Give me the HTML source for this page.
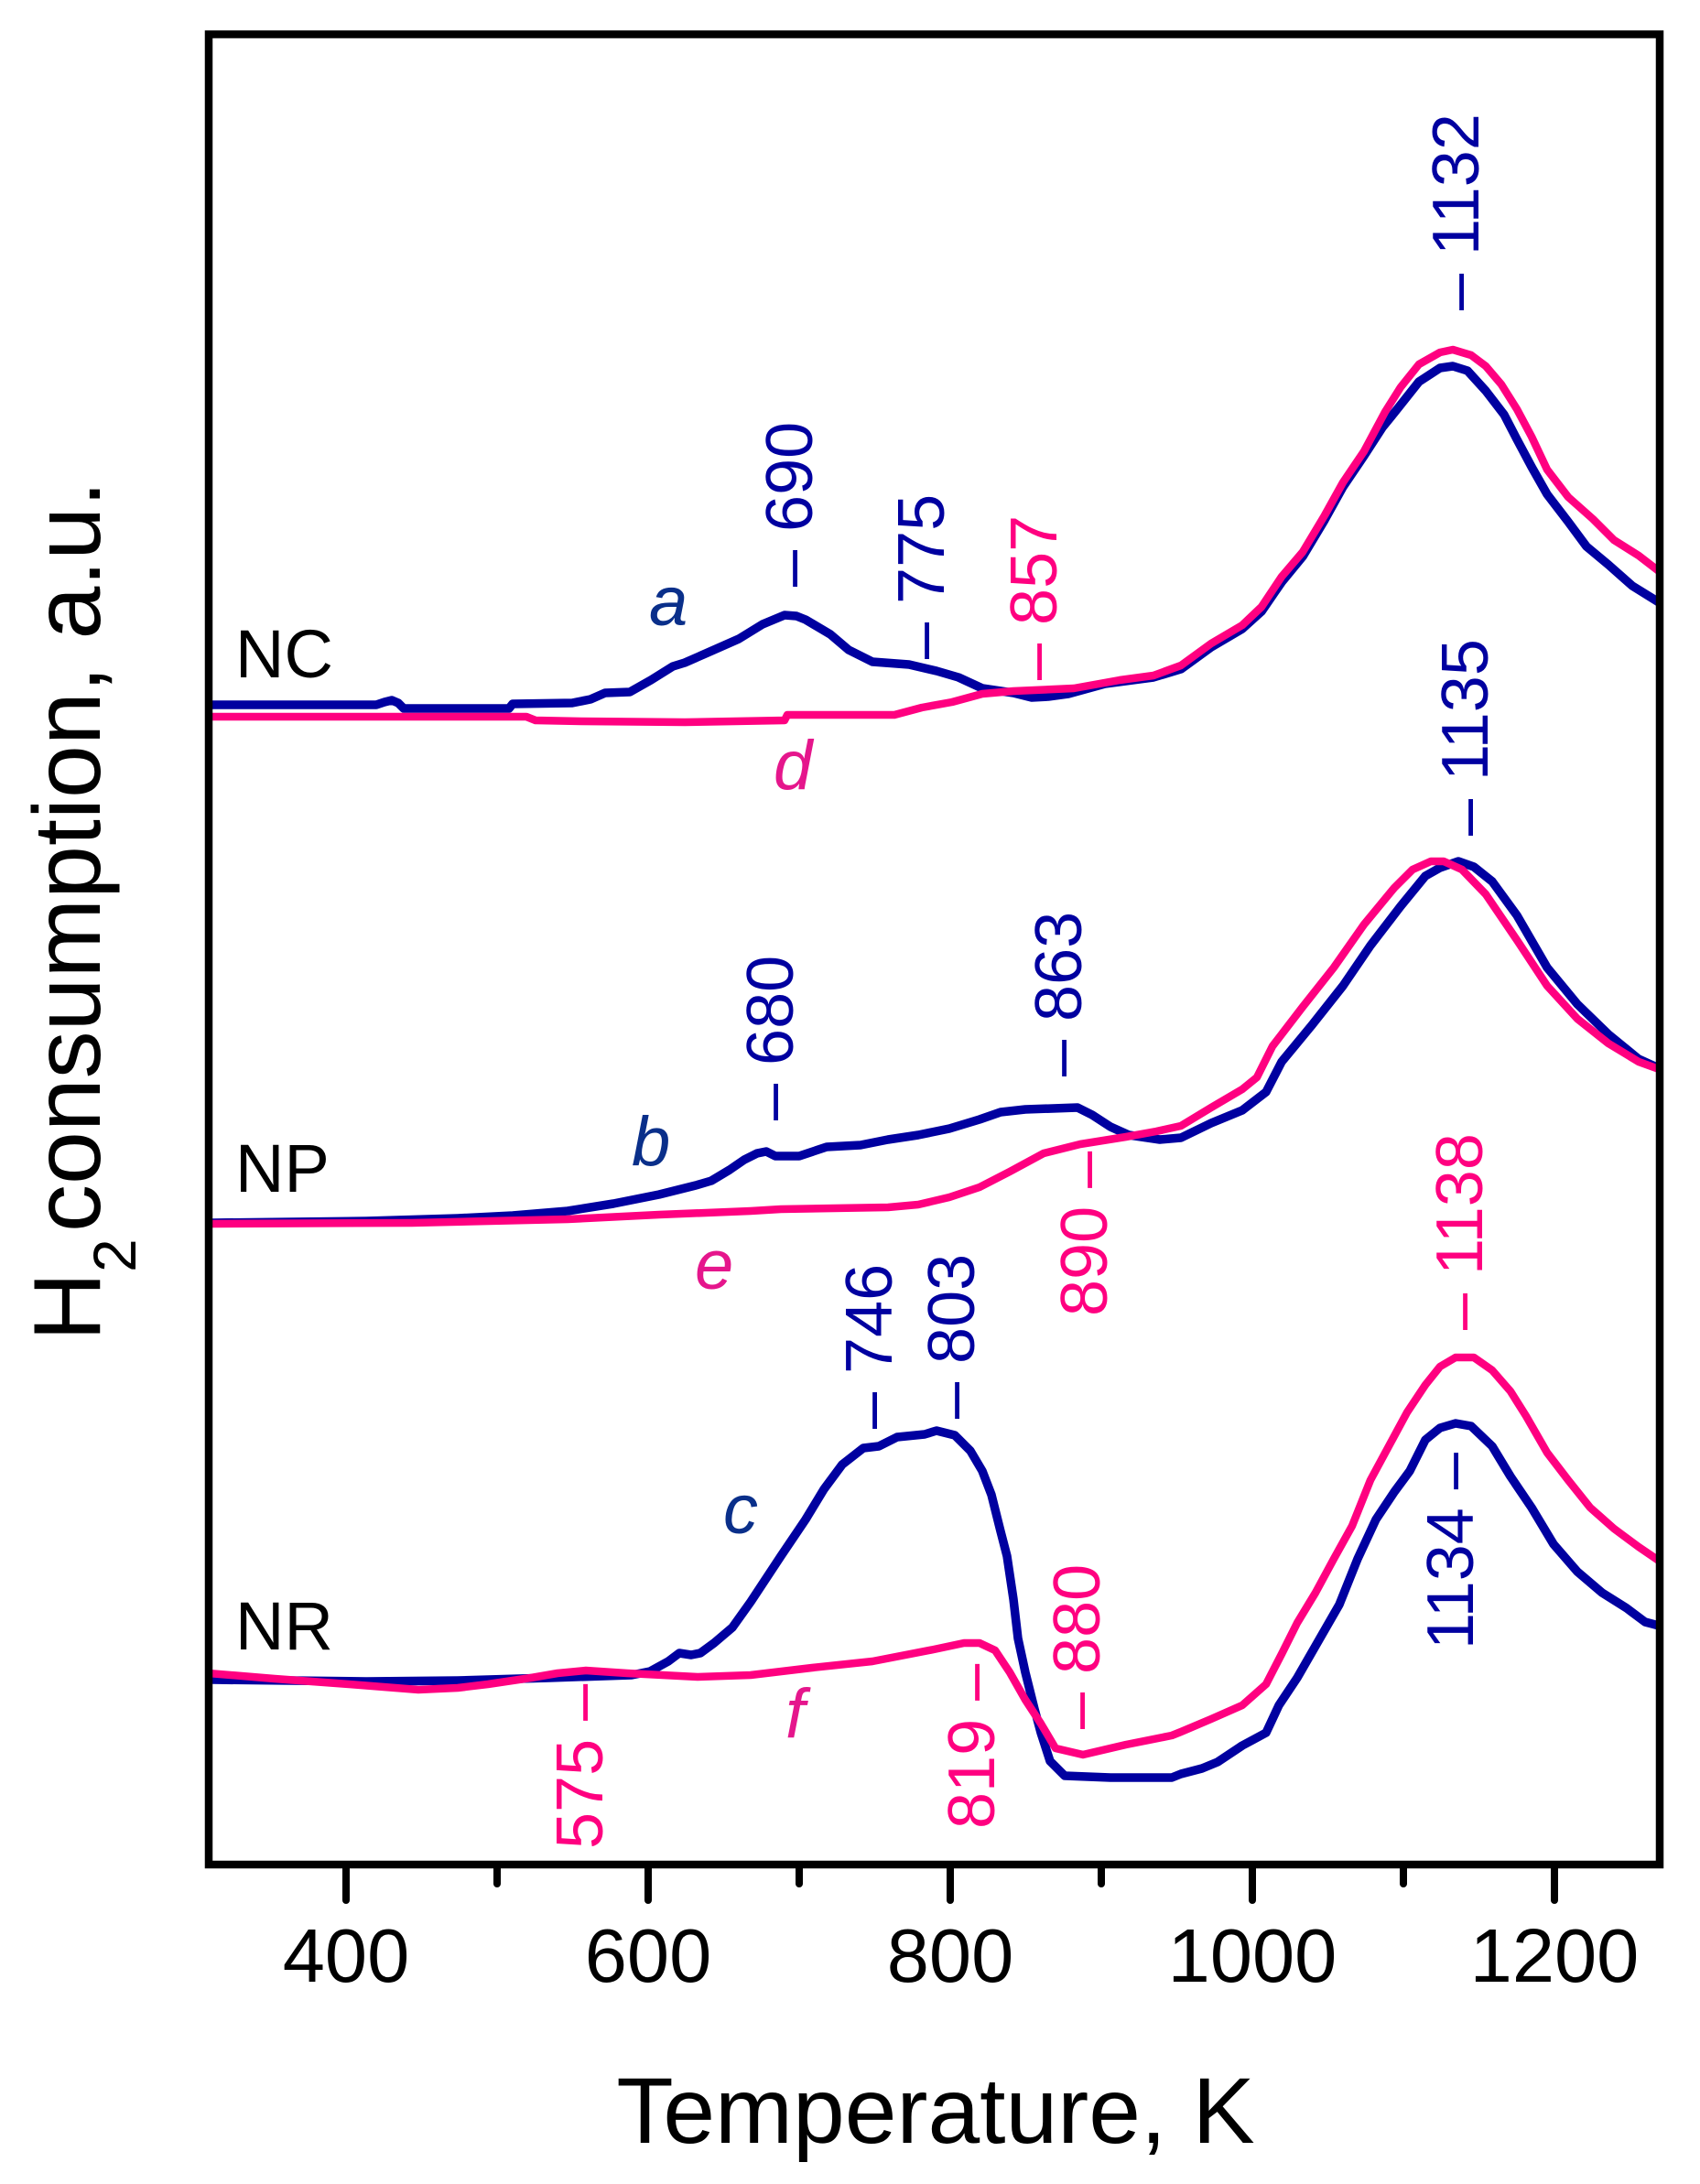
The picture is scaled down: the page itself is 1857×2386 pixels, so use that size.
<!DOCTYPE html>
<html>
<head>
<meta charset="utf-8">
<style>
html,body{margin:0;padding:0;background:#fff;}
svg{display:block;}
text{font-family:"Liberation Sans",Arial,sans-serif;}
</style>
</head>
<body>
<svg width="1857" height="2386" viewBox="0 0 1857 2386" xmlns="http://www.w3.org/2000/svg">
<rect x="0" y="0" width="1857" height="2386" fill="#fff"/>
<defs>
<clipPath id="plot"><rect x="232" y="42" width="1577" height="1991"/></clipPath>
</defs>

<g clip-path="url(#plot)" fill="none" stroke-linejoin="round" stroke-linecap="round">
<!-- a: blue NC -->
<polyline stroke="#0000A0" stroke-width="9.5" points="228,770 411,770 420,767 428,765 435,768 441,774 556,774 560,769 625,768 645,764 661,757 688,756 711,743 735,728 748,724 773,713 807,698 833,682 857,672 870,673 880,677 907,693 927,710 953,723 993,726 1023,733 1047,740 1073,752 1107,757 1127,762 1145,761 1167,758 1207,747 1260,740 1290,731 1323,707 1357,687 1378,668 1400,636 1423,608 1447,568 1467,532 1490,498 1510,467 1523,451 1550,417 1573,402 1587,400 1603,405 1623,427 1643,453 1657,480 1673,510 1690,540 1713,570 1733,597 1757,617 1783,640 1812,658"/>
<!-- d: pink NC -->
<polyline stroke="#FF0080" stroke-width="8.5" points="228,783 575,783 585,787 635,788 748,789 857,787 860,781 977,781 1007,773 1040,767 1073,758 1107,755 1173,752 1223,743 1260,738 1290,727 1323,703 1357,683 1378,663 1400,630 1423,603 1447,563 1467,527 1490,493 1513,450 1530,423 1550,398 1573,385 1587,382 1607,388 1623,400 1640,420 1657,447 1673,477 1690,513 1713,543 1740,567 1763,590 1790,607 1812,624"/>
<!-- b: blue NP -->
<polyline stroke="#0000A0" stroke-width="9.5" points="228,1336 400,1334 500,1331 560,1328 620,1323 670,1315 720,1305 760,1295 777,1290 797,1278 813,1267 827,1260 837,1258 847,1263 873,1263 903,1253 940,1251 970,1245 1003,1240 1037,1233 1070,1223 1093,1215 1120,1212 1177,1210 1193,1218 1213,1231 1233,1240 1267,1245 1290,1243 1323,1227 1357,1213 1383,1193 1400,1160 1433,1120 1467,1077 1497,1033 1530,990 1557,957 1573,948 1593,941 1610,947 1630,963 1657,1000 1690,1057 1723,1097 1757,1130 1790,1157 1812,1167"/>
<!-- e: pink NP -->
<polyline stroke="#FF0080" stroke-width="8.5" points="228,1337 450,1336 620,1332 720,1327 820,1323 853,1321 970,1319 1003,1316 1037,1308 1070,1297 1103,1280 1140,1260 1180,1250 1230,1242 1263,1236 1290,1230 1323,1210 1357,1190 1373,1177 1390,1143 1423,1100 1457,1057 1490,1010 1523,970 1543,950 1563,941 1577,941 1597,950 1623,977 1657,1027 1690,1077 1723,1113 1757,1140 1790,1160 1812,1168"/>
<!-- c: blue NR -->
<polyline stroke="#0000A0" stroke-width="9.5" points="228,1835 400,1837 500,1836 600,1833 690,1830 710,1826 730,1815 742,1806 755,1808 765,1806 780,1795 800,1778 820,1750 853,1700 880,1660 900,1627 920,1600 943,1582 960,1580 980,1570 1010,1567 1023,1563 1043,1568 1060,1585 1073,1607 1083,1633 1093,1673 1100,1700 1107,1747 1112,1790 1120,1827 1130,1867 1137,1893 1147,1924 1163,1940 1213,1942 1280,1942 1290,1938 1313,1932 1330,1925 1357,1907 1383,1893 1397,1863 1417,1833 1440,1793 1463,1753 1483,1703 1503,1660 1523,1630 1540,1607 1557,1573 1573,1560 1590,1555 1607,1558 1630,1580 1650,1613 1673,1647 1697,1687 1723,1717 1750,1740 1777,1757 1797,1772 1812,1776"/>
<!-- f: pink NR -->
<polyline stroke="#FF0080" stroke-width="8.5" points="228,1828 300,1834 381,1840 457,1846 500,1844 533,1840 580,1833 609,1828 640,1825 685,1828 762,1832 820,1830 887,1822 953,1815 1020,1802 1053,1795 1070,1795 1087,1803 1103,1827 1120,1857 1137,1883 1153,1910 1183,1917 1230,1906 1280,1896 1290,1892 1323,1878 1357,1863 1383,1840 1400,1807 1417,1773 1437,1740 1457,1703 1477,1667 1497,1617 1517,1580 1537,1543 1557,1513 1573,1493 1590,1483 1610,1483 1630,1497 1650,1520 1667,1547 1690,1587 1713,1617 1737,1647 1763,1670 1790,1690 1812,1705"/>
</g>

<!-- frame -->
<rect x="228" y="37.5" width="1585" height="1999.5" fill="none" stroke="#000" stroke-width="8.5"/>
<!-- x ticks -->
<g stroke="#000" stroke-width="8" stroke-linecap="round">
<line x1="378" y1="2037" x2="378" y2="2076"/>
<line x1="708" y1="2037" x2="708" y2="2076"/>
<line x1="1038" y1="2037" x2="1038" y2="2076"/>
<line x1="1368" y1="2037" x2="1368" y2="2076"/>
<line x1="1698" y1="2037" x2="1698" y2="2076"/>
<line x1="543" y1="2037" x2="543" y2="2058"/>
<line x1="873" y1="2037" x2="873" y2="2058"/>
<line x1="1203" y1="2037" x2="1203" y2="2058"/>
<line x1="1533" y1="2037" x2="1533" y2="2058"/>
</g>
<g font-size="83" text-anchor="middle" fill="#000">
<text x="378" y="2165">400</text>
<text x="708" y="2165">600</text>
<text x="1038" y="2165">800</text>
<text x="1368" y="2165">1000</text>
<text x="1698" y="2165">1200</text>
</g>

<!-- axis titles -->
<text x="1022" y="2341" font-size="102" text-anchor="middle" fill="#000">Temperature, K</text>
<text transform="translate(109,1465) rotate(-90)" font-size="104" fill="#000">H</text>
<text transform="translate(148,1390) rotate(-90)" font-size="66" fill="#000">2</text>
<text transform="translate(109,1346) rotate(-90)" font-size="104" fill="#000">consumption, a.u.</text>

<!-- sample labels -->
<g font-size="74" fill="#000">
<text x="257" y="740">NC</text>
<text x="257" y="1302">NP</text>
<text x="257" y="1802">NR</text>
</g>

<!-- curve letters -->
<g font-size="76" font-style="italic">
<text x="709" y="683" fill="#0A2F8A">a</text>
<text x="690" y="1273" fill="#0A2F8A">b</text>
<text x="790" y="1675" fill="#0A2F8A">c</text>
<text x="845" y="862" fill="#E5168C">d</text>
<text x="759" y="1408" fill="#E5168C">e</text>
<text x="858" y="1898" fill="#E5168C">f</text>
</g>

<!-- rotated peak labels -->
<g font-size="72">
<text transform="translate(887,641) rotate(-90)" fill="#0000A0">– 690</text>
<text transform="translate(1031,720) rotate(-90)" fill="#0000A0">– 775</text>
<text transform="translate(1154,743) rotate(-90)" fill="#FF0080">– 857</text>
<text transform="translate(1615,339) rotate(-90)" fill="#0000A0">– 1132</text>
<text transform="translate(1625,913) rotate(-90)" fill="#0000A0">– 1135</text>
<text transform="translate(866,1224) rotate(-90)" fill="#0000A0">– 680</text>
<text transform="translate(1181,1176) rotate(-90)" fill="#0000A0">– 863</text>
<text transform="translate(1209,1438) rotate(-90)" fill="#FF0080">890 –</text>
<text transform="translate(974,1561) rotate(-90)" fill="#0000A0">– 746</text>
<text transform="translate(1064,1550) rotate(-90)" fill="#0000A0">– 803</text>
<text transform="translate(1619,1453) rotate(-90)" fill="#FF0080">– 1138</text>
<text transform="translate(1609,1802) rotate(-90)" fill="#0000A0">1134 –</text>
<text transform="translate(1201,1889) rotate(-90)" fill="#FF0080">– 880</text>
<text transform="translate(1086,1998) rotate(-90)" fill="#FF0080">819 –</text>
<text transform="translate(658,2020) rotate(-90)" fill="#FF0080">575 –</text>
</g>
</svg>
</body>
</html>
